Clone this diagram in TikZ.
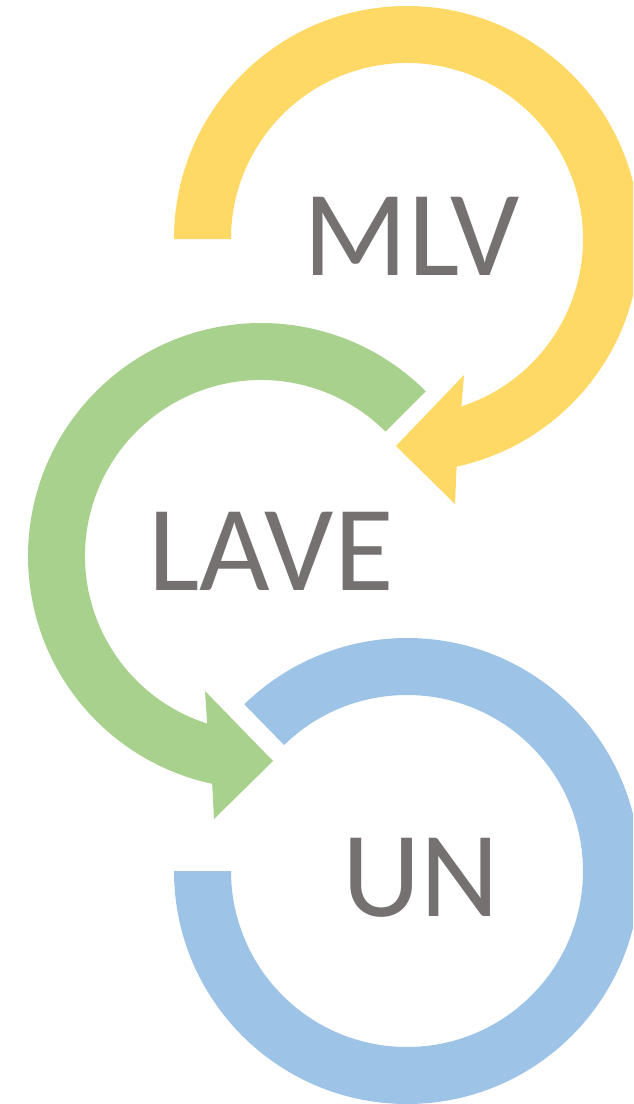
\documentclass[tikz,border=0pt]{standalone}
\usepackage{fontspec}
\setmainfont{Carlito}
\usetikzlibrary{calc}
\definecolor{ylw}{HTML}{FFD966}
\definecolor{grn}{HTML}{A9D18E}
\definecolor{blu}{HTML}{9DC3E6}
\definecolor{txt}{HTML}{767171}
\begin{document}
\begin{tikzpicture}[x=1pt,y=1pt,
  lbl/.style={text=txt, inner sep=0pt, font=\fontsize{122}{130}\selectfont}]
\useasboundingbox (0,0) rectangle (633,-1104);
\clip (0,0) rectangle (633,-1104);
\coordinate (Y) at (407,-239);
\coordinate (G) at (261,-556);
\coordinate (B) at (407,-871);
% yellow arrow
\fill[ylw] ($(Y)+(180:233)$) arc[start angle=180,end angle=-77.7,radius=233]
  -- (455,-504) -- (396,-446) -- (464,-375)
  -- ($(Y)+(-72:176)$) arc[start angle=-72,end angle=180,radius=176] -- cycle;
% green arrow
\fill[grn] ($(G)+(45:233)$) arc[start angle=45,end angle=257.9,radius=233]
  -- (214,-819) -- (273,-761) -- (205,-691)
  -- ($(G)+(252.2:176)$) arc[start angle=252.2,end angle=45,radius=176] -- cycle;
% blue ring
\fill[blu] ($(B)+(180:233)$) arc[start angle=180,end angle=494.3,radius=233]
  -- ($(B)+(134.3:176)$) arc[start angle=134.3,end angle=-180,radius=176] -- cycle;
\node[lbl] (mlv) at (412,-236) {MLV};
\node[lbl] (lave) at (271,-551.5) {LAVE};
\node[lbl] (un) at (421,-878) {UN};
\end{tikzpicture}
\end{document}
